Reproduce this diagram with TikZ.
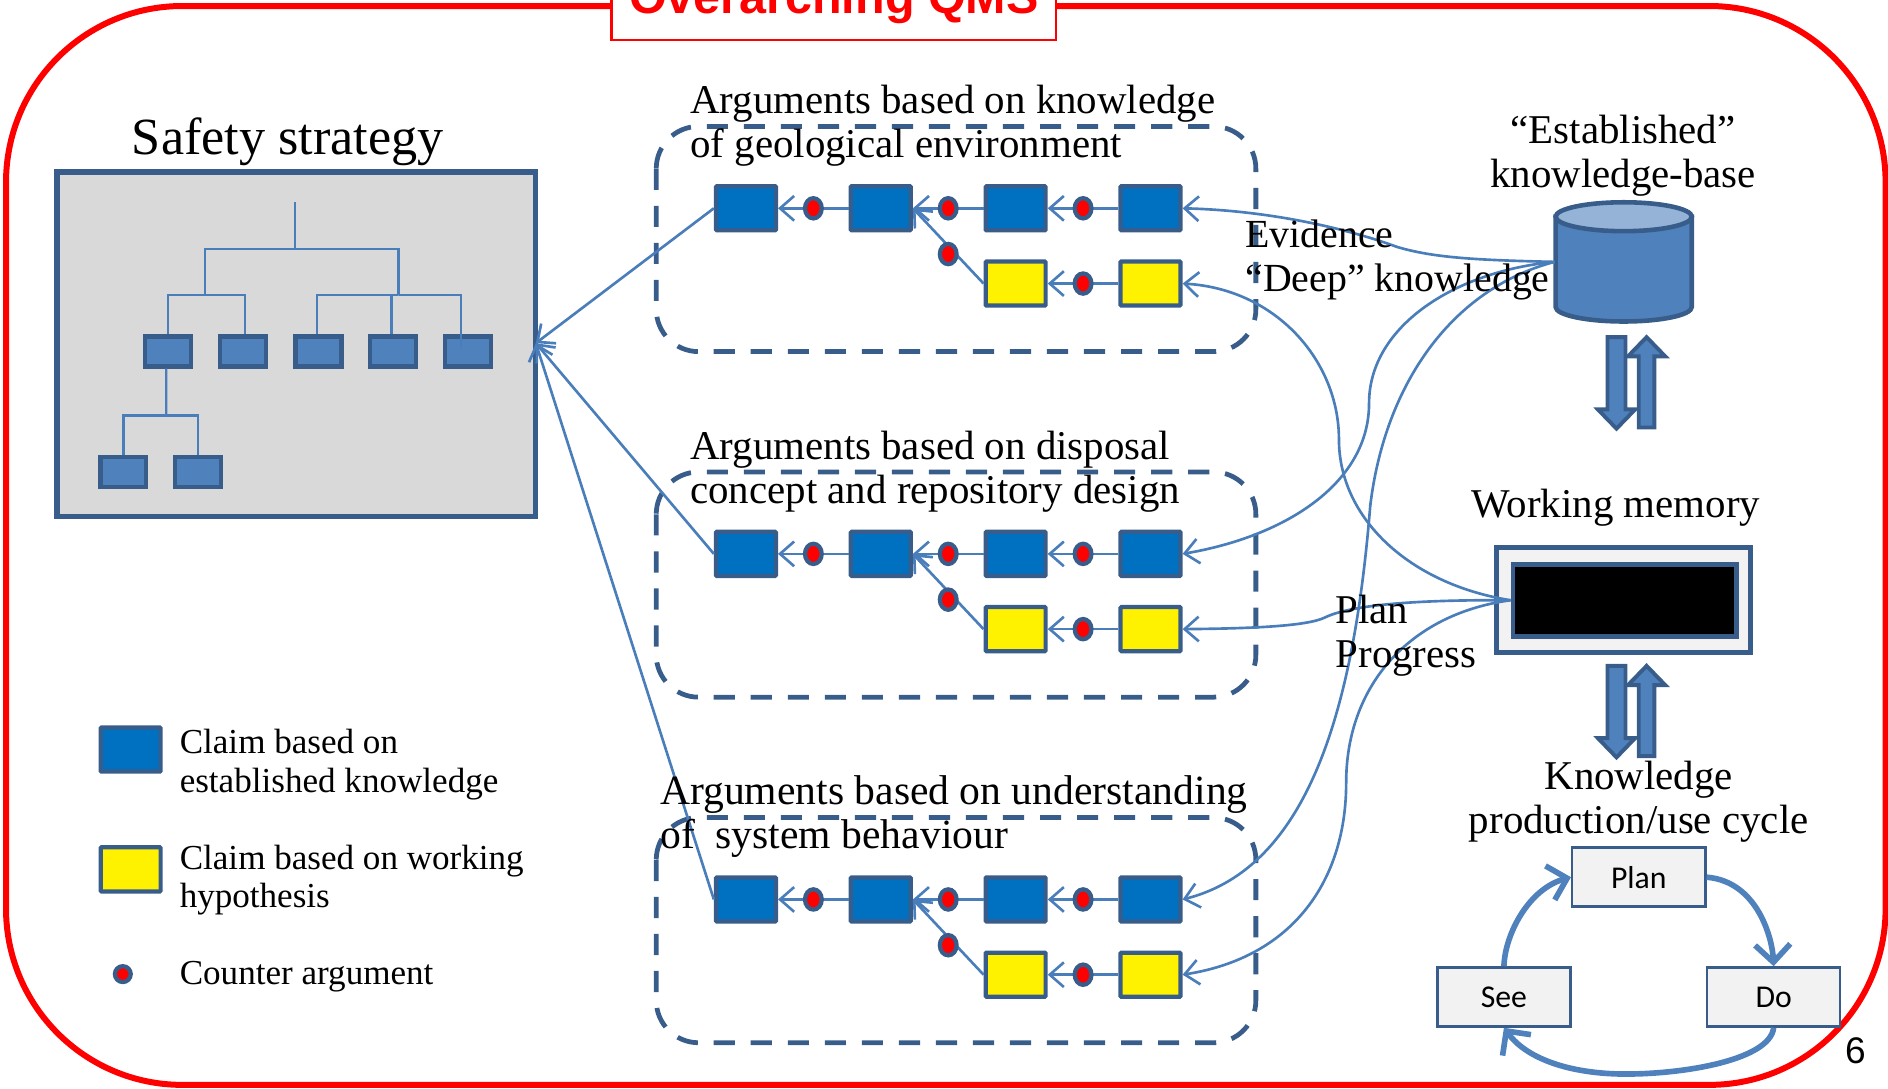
\documentclass[tikz,border=0pt]{standalone}
\usepackage{fontspec}
\setmainfont{Liberation Serif}
\newfontfamily\cyclefont{Carlito}
\newfontfamily\slidefont{Liberation Sans}
\usepackage{xcolor}
\usetikzlibrary{arrows.meta}
\usetikzlibrary{shapes.geometric}
\definecolor{edgeblue}{HTML}{385D8A}
\definecolor{linkblue}{HTML}{4A7EBB}
\definecolor{fillblue}{HTML}{4F81BD}
\definecolor{claimblue}{HTML}{0070C0}
\definecolor{palegray}{HTML}{F2F2F2}
\newcommand{\headfont}{\fontsize{23.2}{25}\selectfont}
\newcommand{\legendfont}{\fontsize{19.9}{22}\selectfont}
\tikzset{
  claimbox/.style={rectangle,draw=edgeblue,line width=2.4pt,rounded corners=0.5pt,minimum width=34pt,minimum height=25pt,inner sep=0pt},
  estclaim/.style={claimbox,fill=claimblue},
  hypclaim/.style={claimbox,fill=yellow},
  counterdot/.style={ellipse,draw=edgeblue,fill=red,line width=2.4pt,minimum width=9.5pt,minimum height=11.5pt,inner sep=0pt},
  stratbox/.style={rectangle,draw=edgeblue,fill=fillblue,line width=2.4pt,minimum width=26pt,minimum height=17pt,inner sep=0pt},
  groupbox/.style={draw=edgeblue,line width=2.7pt,rounded corners=24pt,dash pattern=on 12pt off 9pt},
  link/.style={draw=linkblue,line width=1.5pt},
  linkarrow/.style={link,-{Straight Barb[length=8pt,width=14pt]}},
  treeline/.style={draw=linkblue,line width=1.3pt},
  bigarrow/.style={draw=edgeblue,fill=fillblue,line width=2.2pt,line join=miter},
  cyclebox/.style={rectangle,draw=edgeblue,fill=palegray,line width=1.4pt,minimum width=75.5pt,minimum height=33.5pt,inner sep=0pt,font=\cyclefont\fontsize{18}{20}\selectfont},
  cyclearrow/.style={draw=fillblue,line width=3.2pt,-{Straight Barb[length=10pt,width=20pt]}},
  headtext/.style={align=left,inner sep=0pt,font=\headfont},
  midtext/.style={align=center,inner sep=0pt,font=\headfont},
  legendtext/.style={align=left,inner sep=0pt,anchor=west,font=\legendfont}
}
\begin{document}
\begin{tikzpicture}[x=0.024cm,y=-0.024cm]
\useasboundingbox (0,0) rectangle (1568,903.6);
% outer frame
\draw[red,line width=3.4pt,rounded corners=100pt] (5,5) rectangle (1566,901);
\node[rectangle,draw=red,fill=white,line width=1.6pt,minimum width=252pt,minimum height=44pt,inner sep=0pt,text=red,font=\slidefont\bfseries\fontsize{27.5}{29}\selectfont] (qmstitle) at (692.5,1) {Overarching QMS};
% safety strategy
\node[font=\fontsize{29.6}{31}\selectfont,inner sep=0pt] (safetytitle) at (239,118) {Safety strategy};
\node[rectangle,draw=edgeblue,fill=gray!30,line width=3pt,minimum width=271.5pt,minimum height=195.5pt,inner sep=0pt] (safety) at (246,286) {};
\foreach \s/\sx/\sy in {a/139.5/292, b/202/292, c/264.5/292, d/326.5/292, e/388.5/292, f/102.5/392, g/164.5/392}
    \node[stratbox] (strat\s) at (\sx,\sy) {};
\coordinate (treetop) at (245,168);
\coordinate (treefork) at (245,207);
\coordinate (forkleft) at (170,245);
\coordinate (forkright) at (331,245);
\coordinate (forklow) at (138,345);
\draw[treeline] (treetop) -- (treefork);
\draw[treeline] (forkleft) |- (treefork) -| (forkright);
\draw[treeline] (strata.north) |- (forkleft) -| ([xshift=1pt]stratb.north);
\draw[treeline] ([xshift=-1pt]stratc.north) |- (forkright) -| ([xshift=-1pt]stratd.north);
\draw[treeline] (forkright) -| ([xshift=-4pt,yshift=-8pt]strate.north);
\draw[treeline] ([xshift=-1pt]strata.south) -- (forklow);
\draw[treeline] (stratf.north) |- (forklow) -| (stratg.north);
\coordinate (safetyin) at (445,285);
% the three groups of arguments
\foreach \g/\yy in {a/0, b/287, c/574} {
\begin{scope}[shift={(0,\yy)}]
   \draw[groupbox] (545,105) rectangle (1043,292);
   \foreach \n/\cx in {1/619.5, 2/731.5, 3/843.5, 4/955.5}
       \node[estclaim] (est\g\n) at (\cx,173) {};
   \foreach \n/\cx in {3/843.5, 4/955.5}
       \node[hypclaim] (hyp\g\n) at (\cx,235.5) {};
   \draw[linkarrow] (est\g2) -- (est\g1);
   \draw[linkarrow] (est\g3) -- (est\g2);
   \draw[linkarrow] (est\g4) -- (est\g3);
   \draw[linkarrow] (hyp\g4) -- (hyp\g3);
   \draw[linkarrow] (hyp\g3.west) -- (est\g2.east);
   \foreach \d/\cx/\cy in {1/675.5/173, 2/787.5/173, 3/899.5/173, 4/787.5/211, 5/899.5/235.5}
       \node[counterdot] (dot\g\d) at (\cx,\cy) {};
\end{scope}
\draw[linkarrow] (est\g1.west) -- (safetyin);
}
% knowledge base and working memory
\node[rectangle,minimum width=78pt,minimum height=68pt,inner sep=0pt] (kbase) at (1348.5,217.5) {};
\draw[draw=edgeblue,fill=fillblue,line width=2.6pt] (1292,180) -- (1292,255) arc[x radius=56.5,y radius=12,start angle=180,end angle=0] -- (1405,180) -- cycle;
\draw[draw=edgeblue,fill=fillblue!60,line width=2.6pt] (1348.5,180) ellipse[x radius=56.5,y radius=12];
\node[rectangle,draw=edgeblue,fill=palegray,line width=2.8pt,minimum width=144pt,minimum height=59.5pt,inner sep=0pt] (memory) at (1348.5,498) {};
\node[rectangle,draw=edgeblue,fill=black,line width=2.8pt,minimum width=127pt,minimum height=41pt,inner sep=0pt] (memscreen) at (1349.5,498.5) {};
\foreach \yy in {0,273} {
\begin{scope}[shift={(0,\yy)}]
   \draw[bigarrow] (1361,355) -- (1374,355) -- (1374,296) -- (1383,296) -- (1367.5,280) -- (1352,296) -- (1361,296) -- cycle;
   \draw[bigarrow] (1335,280) -- (1350,280) -- (1350,340) -- (1358,340) -- (1342.5,356) -- (1327,340) -- (1335,340) -- cycle;
\end{scope}
}
% links to the knowledge base and the working memory
\draw[linkarrow] (kbase.west) .. controls (1225,216) and (1190,214) .. (1160,205) .. controls (1125,192) and (1060,175) .. (esta4.east);
\draw[linkarrow] (memscreen.west) .. controls (1170,485) and (1112,430) .. (1112,365) .. controls (1112,300) and (1060,240) .. (hypa4.east);
\draw[linkarrow] (kbase.west) .. controls (1210,225) and (1137,270) .. (1137,335) .. controls (1137,400) and (1070,445) .. (estb4.east);
\draw[linkarrow] (memscreen.west) .. controls (1170,498) and (1120,503) .. (1100,513) .. controls (1085,520) and (1040,522) .. (hypb4.east);
\draw[linkarrow] (kbase.west) .. controls (1205,240) and (1150,320) .. (1138,420) .. controls (1125,580) and (1090,720) .. (estc4.east);
\draw[linkarrow] (memscreen.west) .. controls (1170,510) and (1118,570) .. (1118,650) .. controls (1118,730) and (1075,795) .. (hypc4.east);
% cycle
\node[cyclebox] (plan) at (1361,728.5) {Plan};
\node[cyclebox] (see) at (1249,828) {See};
\node[cyclebox] (do) at (1473,828) {Do};
\draw[cyclearrow] (plan.east) .. controls (1460,732) and (1472,780) .. (do.north);
\draw[cyclearrow] (do.south) .. controls (1470,880) and (1400,892) .. (1350,892) .. controls (1310,892) and (1270,882) .. (see.south);
\draw[cyclearrow] (see.north) .. controls (1250,775) and (1270,738) .. (plan.west);
% texts
\node[headtext,anchor=west] (groupa) at (573,104.5) {Arguments based on knowledge\\of geological environment};
\node[headtext,anchor=west] (groupb) at (573,391.5) {Arguments based on disposal\\concept and repository design};
\node[headtext,anchor=west,font=\fontsize{23.6}{25}\selectfont] (groupc) at (548,678.5) {Arguments based on understanding\\of\ \ system behaviour};
\node[headtext,anchor=west,font=\fontsize{22.6}{25}\selectfont] (evidence) at (1034,216) {Evidence\\``Deep'' knowledge};
\node[headtext,anchor=west] (progress) at (1109,528) {Plan\\Progress};
\node[midtext] (kbtitle) at (1348,129) {``Established''\\knowledge-base};
\node[midtext] (memtitle) at (1342,422) {Working memory};
\node[midtext] (cycletitle) at (1361,665.5) {Knowledge\\production/use cycle};
% legend
\node[estclaim] (legendest) at (108.5,622.5) {};
\node[hypclaim] (legendhyp) at (108.5,722) {};
\node[counterdot,circle,minimum size=9pt] (legenddot) at (102,809) {};
\node[legendtext] (legendesttext) at (149,635) {Claim based on\\established knowledge};
\node[legendtext] (legendhyptext) at (149,731) {Claim based on working\\hypothesis};
\node[legendtext] (legenddottext) at (149,811) {Counter argument};
\node[inner sep=0pt,font=\slidefont\fontsize{21}{23}\selectfont] (pagenum) at (1541,873) {6};
\end{tikzpicture}
\end{document}
